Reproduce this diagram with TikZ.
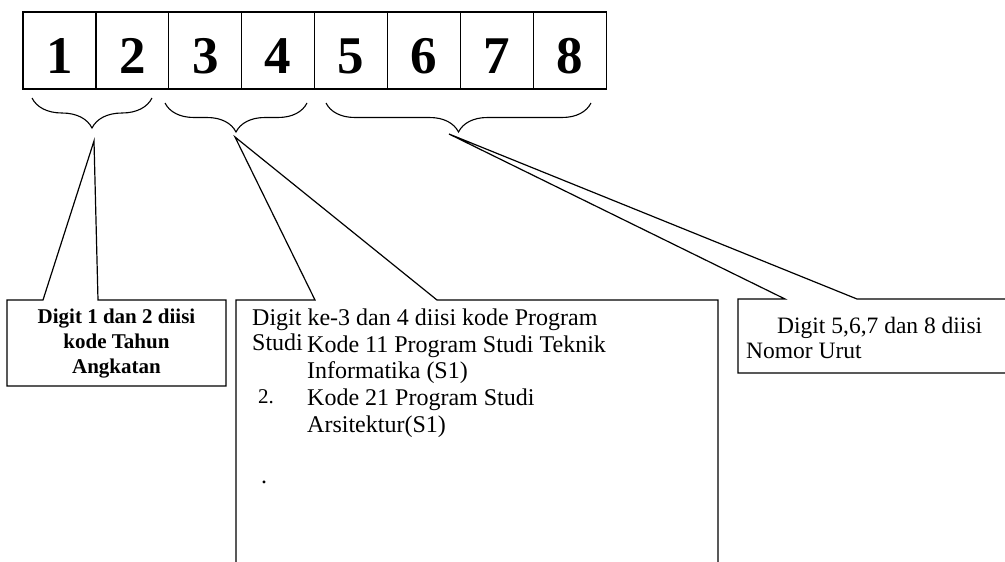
\documentclass[tikz,border=0pt]{standalone}
\usepackage{fontspec}
\setmainfont{Liberation Serif}
\usetikzlibrary{decorations.pathreplacing}
\begin{document}
\begin{tikzpicture}[x=1pt,y=-1pt,
  cell/.style={draw, line width=1.3pt, minimum width=72.9pt, minimum height=77pt,
    inner sep=0pt, text height=45pt, text depth=0pt,
    font=\fontsize{53}{53}\selectfont\bfseries},
  bracestyle/.style={decorate, decoration={brace, mirror, amplitude=#1}, line width=1.1pt},
  callout/.style={draw, line width=1.2pt, line join=miter},
  boldtxt/.style={anchor=base, inner sep=0pt, font=\fontsize{21}{25}\selectfont\bfseries},
  txt/.style={anchor=base west, inner sep=0pt, font=\fontsize{24}{26}\selectfont},
  txtc/.style={anchor=base west, inner sep=0pt, font=\fontsize{23.5}{25}\selectfont},
  numtxt/.style={anchor=base west, inner sep=0pt, font=\fontsize{21}{22}\selectfont}]
\useasboundingbox (0,0) rectangle (1005,562);
\clip (0,0) rectangle (1005,562);
% digit cells
\foreach \i in {1,...,8}
  \node[cell] (d\i) at ({23+72.9*(\i-0.5)},50.5) {\i};
% braces
\draw[bracestyle=30pt] (32,98) -- (152,98);
\draw[bracestyle=29pt] (165,103) -- (307,103);
\draw[bracestyle=29pt] (326,103) -- (591,103);
% pointer apexes
\coordinate (a1) at (94,141);
\coordinate (a2) at (235,137);
\coordinate (a3) at (449,134);
% callout 1
\draw[callout] (7,386) -- (7,300) -- (43,300) -- (a1) -- (98,300) -- (226,300) -- (226,386) -- cycle;
\node[boldtxt] (t1a) at (116.5,323) {Digit 1 dan 2 diisi};
\node[boldtxt] (t1b) at (116.5,348) {kode Tahun};
\node[boldtxt] (t1c) at (116.5,373) {Angkatan};
% callout 2
\draw[callout] (236,570) -- (236,300) -- (315,300) -- (a2) -- (437,300) -- (718,300) -- (718,570);
\node[txt] (t2a) at (252,325) {Digit ke-3 dan 4 diisi kode Program};
\node[txt] (t2b) at (252,350) {Studi};
\node[txt] (t2c) at (307,352) {Kode 11 Program Studi Teknik};
\node[txt] (t2d) at (307,378) {Informatika (S1)};
\node[numtxt] (t2e) at (258,403) {2.};
\node[txt] (t2f) at (307,405) {Kode 21 Program Studi};
\node[txt] (t2g) at (307,432) {Arsitektur(S1)};
\node[txt] (t2h) at (261,483) {.};
% callout 3
\draw[callout] (1012,373) -- (738,373) -- (738,299) -- (785,299) -- (a3) -- (857,299) -- (1012,299);
\node[txtc] (t3a) at (777,333) {Digit 5,6,7 dan 8 diisi};
\node[txtc] (t3b) at (746,358) {Nomor Urut};
\end{tikzpicture}
\end{document}
